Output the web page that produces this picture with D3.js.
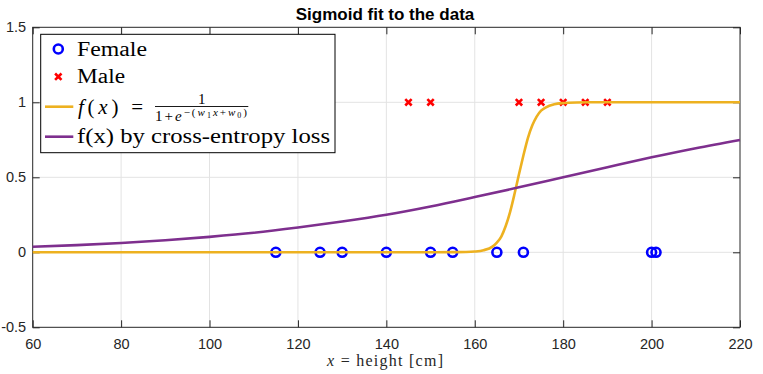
<!DOCTYPE html>
<html>
<head>
<meta charset="utf-8">
<script src="https://cdn.jsdelivr.net/npm/d3@7"></script>
<style>
  body { margin: 0; background: #fff; }
  svg { display: block; }
</style>
</head>
<body>
<svg id="chart" width="763" height="374"></svg>
<script>
'use strict';

// data
const femaleHeights = [115, 125, 130, 140, 150, 155, 165, 171, 200, 201];
const maleHeights = [145, 150, 170, 175, 180, 185, 190];

const fitX = [60, 100, 140, 150, 155, 158, 160, 162, 164, 165, 166, 167, 168, 169, 170, 171, 172, 173, 174, 175, 176, 178, 180, 183, 186, 190, 200, 220];
const fitY = [0, 0, 0, 0, 0.001, 0.002, 0.005, 0.014, 0.038, 0.065, 0.105, 0.175, 0.27, 0.39, 0.52, 0.645, 0.76, 0.845, 0.905, 0.945, 0.965, 0.987, 0.995, 0.999, 1, 1, 1, 1];

const ceX = [60, 70, 80, 90, 100, 110, 120, 130, 140, 150, 160, 170, 180, 190, 200, 210, 220];
const ceY = [0.037, 0.048, 0.062, 0.08, 0.103, 0.13, 0.165, 0.205, 0.25, 0.305, 0.368, 0.433, 0.5, 0.567, 0.633, 0.694, 0.749];

const xTicks = [60, 80, 100, 120, 140, 160, 180, 200, 220];
const yTicks = [-0.5, 0, 0.5, 1, 1.5];

const LEFT = 32.7, RIGHT = 740, TOP = 27.3, BOTTOM = 327.3;
const AXIS_COLOR = "#262626";
const ORANGE = "#EDB120";
const PURPLE = "#7E2F8E";

const svg = d3.select("#chart");

const x = d3.scaleLinear().domain([60, 220]).range([LEFT, RIGHT]);
const y = d3.scaleLinear().domain([-0.5, 1.5]).range([BOTTOM, TOP]);

// grid
const grid = svg.append("g").attr("stroke", "#e3e3e3").attr("stroke-width", 1);
grid.selectAll(".gx").data(xTicks.slice(1, -1)).enter().append("line")
  .attr("x1", d => x(d)).attr("x2", d => x(d)).attr("y1", TOP).attr("y2", BOTTOM);
grid.selectAll(".gy").data(yTicks.slice(1, -1)).enter().append("line")
  .attr("x1", LEFT).attr("x2", RIGHT).attr("y1", d => y(d)).attr("y2", d => y(d));

// axes, ticks pointing inwards like matlab
const axisFont = "'Liberation Sans', Arial, sans-serif";
svg.append("g").attr("transform", `translate(0,${BOTTOM})`)
  .call(d3.axisBottom(x).tickValues(xTicks).tickSizeInner(-7).tickSizeOuter(0).tickPadding(11))
  .call(g => g.select(".domain").remove())
  .call(g => g.selectAll("text").attr("font-size", 14.5).attr("font-family", axisFont).attr("fill", AXIS_COLOR).attr("dy", "0.71em"))
  .call(g => g.selectAll("line").attr("stroke", AXIS_COLOR));
svg.append("g").attr("transform", `translate(0,${TOP})`)
  .call(d3.axisTop(x).tickValues(xTicks).tickSizeInner(-7).tickSizeOuter(0).tickFormat(""))
  .call(g => g.select(".domain").remove())
  .call(g => g.selectAll("line").attr("stroke", AXIS_COLOR));
svg.append("g").attr("transform", `translate(${LEFT},0)`)
  .call(d3.axisLeft(y).tickValues(yTicks).tickSizeInner(-7).tickSizeOuter(0).tickPadding(6.5).tickFormat(d => String(d)))
  .call(g => g.select(".domain").remove())
  .call(g => g.selectAll("text").attr("font-size", 14.5).attr("font-family", axisFont).attr("fill", AXIS_COLOR))
  .call(g => g.selectAll("line").attr("stroke", AXIS_COLOR));
svg.append("g").attr("transform", `translate(${RIGHT},0)`)
  .call(d3.axisRight(y).tickValues(yTicks).tickSizeInner(-7).tickSizeOuter(0).tickFormat(""))
  .call(g => g.select(".domain").remove())
  .call(g => g.selectAll("line").attr("stroke", AXIS_COLOR));

svg.append("rect")
  .attr("x", LEFT).attr("y", TOP).attr("width", RIGHT - LEFT).attr("height", BOTTOM - TOP)
  .attr("fill", "none").attr("stroke", AXIS_COLOR).attr("stroke-width", 1);

// data markers
svg.append("g").selectAll("circle").data(femaleHeights).enter().append("circle")
  .attr("cx", d => x(d)).attr("cy", y(0)).attr("r", 4.5)
  .attr("fill", "none").attr("stroke", "#0000ff").attr("stroke-width", 2.6);

const cross = (sel, s) => sel.append("path")
  .attr("d", `M${-s},${-s}L${s},${s}M${-s},${s}L${s},${-s}`)
  .attr("stroke", "#ff0000").attr("stroke-width", 2.6).attr("fill", "none");
svg.append("g").selectAll("g").data(maleHeights).enter().append("g")
  .attr("transform", d => `translate(${x(d)},${y(1)})`)
  .call(sel => cross(sel, 3.2));

// curves
const line = d3.line().x(d => x(d[0])).y(d => y(d[1])).curve(d3.curveMonotoneX);
svg.append("path").datum(d3.zip(fitX, fitY)).attr("d", line)
  .attr("fill", "none").attr("stroke", ORANGE).attr("stroke-width", 2.6);
svg.append("path").datum(d3.zip(ceX, ceY)).attr("d", line)
  .attr("fill", "none").attr("stroke", PURPLE).attr("stroke-width", 2.6);

// title & x label
svg.append("text").attr("x", 385).attr("y", 20).attr("text-anchor", "middle")
  .attr("font-family", axisFont).attr("font-weight", "bold").attr("font-size", 17).attr("fill", "#000")
  .text("Sigmoid fit to the data");

const serif = "'Liberation Serif', 'Times New Roman', serif";
const xl = svg.append("text").attr("x", 385).attr("y", 366).attr("text-anchor", "middle")
  .attr("font-family", serif).attr("font-size", 16).attr("fill", AXIS_COLOR)
  .attr("textLength", 116).attr("lengthAdjust", "spacing");
xl.append("tspan").attr("font-style", "italic").text("x");
xl.append("tspan").text(" = height [cm]");

// legend
const lg = svg.append("g");
lg.append("rect").attr("x", 40.7).attr("y", 34.3).attr("width", 294.3).attr("height", 118.4)
  .attr("fill", "#fff").attr("stroke", "#000").attr("stroke-width", 1);
lg.append("circle").attr("cx", 58.3).attr("cy", 49).attr("r", 4.5)
  .attr("fill", "none").attr("stroke", "#0000ff").attr("stroke-width", 2.6);
lg.append("g").attr("transform", "translate(58.3,76.7)").call(sel => cross(sel, 3.2));
lg.append("line").attr("x1", 45).attr("x2", 73.3).attr("y1", 106.7).attr("y2", 106.7)
  .attr("stroke", ORANGE).attr("stroke-width", 2.6);
lg.append("line").attr("x1", 45).attr("x2", 73.3).attr("y1", 136.7).attr("y2", 136.7)
  .attr("stroke", PURPLE).attr("stroke-width", 2.6);

const legText = (ty, str, len) => lg.append("text").attr("x", 77).attr("y", ty)
  .attr("font-family", serif).attr("font-size", 20).attr("fill", "#000")
  .attr("textLength", len).attr("lengthAdjust", "spacingAndGlyphs").text(str);
legText(55.5, "Female", 70);
legText(83, "Male", 48);
legText(143, "f(x) by cross-entropy loss", 253);

const fx = lg.append("text").attr("x", 78).attr("y", 113.5)
  .attr("font-family", serif).attr("font-size", 21).attr("fill", "#000")
  .attr("textLength", 65).attr("lengthAdjust", "spacing");
fx.append("tspan").attr("font-style", "italic").text("f");
fx.append("tspan").text("(");
fx.append("tspan").attr("font-style", "italic").text("x");
fx.append("tspan").text(") =");
lg.append("text").attr("x", 201.7).attr("y", 104).attr("text-anchor", "middle")
  .attr("font-family", serif).attr("font-size", 15).text("1");
lg.append("line").attr("x1", 155).attr("x2", 248.3).attr("y1", 106.5).attr("y2", 106.5)
  .attr("stroke", "#000").attr("stroke-width", 0.9);
const den = lg.append("text").attr("x", 155).attr("y", 120.5)
  .attr("font-family", serif).attr("font-size", 15)
  .attr("textLength", 92).attr("lengthAdjust", "spacing");
den.append("tspan").text("1+");
den.append("tspan").attr("font-style", "italic").text("e");
const sup = den.append("tspan").attr("dy", -5).attr("font-size", 11);
sup.append("tspan").text("−(");
sup.append("tspan").attr("font-style", "italic").text("w");
sup.append("tspan").attr("font-size", 8).attr("dy", 2).text("1");
sup.append("tspan").attr("font-size", 11).attr("dy", -2).attr("font-style", "italic").text("x");
sup.append("tspan").attr("font-size", 11).text("+");
sup.append("tspan").attr("font-size", 11).attr("font-style", "italic").text("w");
sup.append("tspan").attr("font-size", 8).attr("dy", 2).text("0");
sup.append("tspan").attr("font-size", 11).attr("dy", -2).text(")");
</script>
</body>
</html>
